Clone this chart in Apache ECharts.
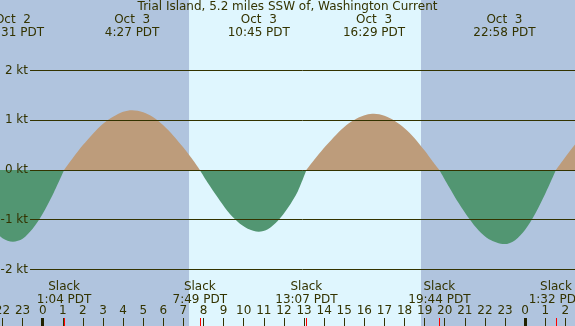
<!DOCTYPE html>
<html>
<head>
<meta charset="utf-8">
<script src="https://cdn.jsdelivr.net/npm/echarts@6/dist/echarts.min.js"></script>
<style>
  html, body { margin: 0; padding: 0; }
  #chart { width: 575px; height: 326px; }
</style>
</head>
<body>
<div id="chart"></div>
<script>
// hours counted from Oct 3 00:00 PDT
const hourTicks = [-2, -1, 0, 1, 2, 3, 4, 5, 6, 7, 8, 9, 10, 11, 12, 13, 14, 15, 16, 17, 18, 19, 20, 21, 22, 23, 24, 25, 26]
const midnightTicks = [0, 24]
const slackTimes = [1.067, 7.817, 13.117, 19.733, 25.533]
const slackLabels = ['1:04 PDT', '7:49 PDT', '13:07 PDT', '19:44 PDT', '1:32 PDT']
const peakTimes = [-1.483, 4.45, 10.75, 16.483, 22.967]
const peakLabels = ['Oct  2\n22:31 PDT', 'Oct  3\n4:27 PDT', 'Oct  3\n10:45 PDT', 'Oct  3\n16:29 PDT', 'Oct  3\n22:58 PDT']
const ktTicks = [-2, -1, 0, 1, 2]
const daylight = [7.28, 18.82]

// current speed (kt), split at slack water
const ebb1 = [[-3, -0.85], [-2.5, -1.16], [-2, -1.37], [-1.48, -1.44], [-1, -1.38], [-0.5, -1.18], [0, -0.88], [0.5, -0.5], [1.067, 0]]
const flood1 = [[1.067, 0], [1.5, 0.24], [2, 0.5], [2.5, 0.73], [3, 0.93], [3.5, 1.07], [4, 1.17], [4.45, 1.2], [5, 1.16], [5.5, 1.06], [6, 0.9], [6.5, 0.69], [7, 0.45], [7.4, 0.24], [7.817, 0]]
const ebb2 = [[7.817, 0], [8.2, -0.25], [8.7, -0.55], [9.2, -0.83], [9.7, -1.04], [10.2, -1.18], [10.75, -1.24], [11.2, -1.19], [11.7, -1.02], [12.2, -0.76], [12.7, -0.42], [13.117, 0]]
const flood2 = [[13.117, 0], [13.6, 0.25], [14.1, 0.49], [14.6, 0.71], [15.1, 0.9], [15.6, 1.03], [16.1, 1.11], [16.48, 1.13], [17, 1.09], [17.5, 0.99], [18, 0.84], [18.5, 0.64], [19, 0.39], [19.4, 0.17], [19.733, 0]]
const ebb3 = [[19.733, 0], [20.2, -0.33], [20.7, -0.67], [21.2, -0.97], [21.7, -1.22], [22.2, -1.39], [22.97, -1.49], [23.5, -1.41], [24, -1.2], [24.5, -0.88], [25, -0.48], [25.533, 0]]
const flood3 = [[25.533, 0], [26, 0.26], [26.5, 0.52], [27, 0.74]]

const textColor = '#333300'
const font = 'DejaVu Sans'
const xMin = -2.124
const xMax = 26.48
const lineStart = -0.63

const segments = [
  { data: ebb1, color: '#529672' },
  { data: flood1, color: '#bd9c7b' },
  { data: ebb2, color: '#529672' },
  { data: flood2, color: '#bd9c7b' },
  { data: ebb3, color: '#529672' },
  { data: flood3, color: '#bd9c7b' },
]

const baseX = {
  type: 'value',
  min: xMin,
  max: xMax,
  position: 'bottom',
  z: 10,
  axisLine: { show: false, onZero: false },
  splitLine: { show: false },
  axisTick: { show: false },
  axisLabel: { show: false },
}

const chart = echarts.init(document.getElementById('chart'))
chart.setOption({
  animation: false,
  backgroundColor: '#b0c4de',
  textStyle: { fontFamily: font },
  title: {
    text: 'Trial Island, 5.2 miles SSW of, Washington Current',
    left: 'center',
    top: 1,
    padding: 0,
    textStyle: { fontSize: 12, fontWeight: 'normal', color: textColor, fontFamily: font },
  },
  grid: { left: 0, right: 0, top: 0, bottom: 0, containLabel: false, outerBoundsMode: 'none' },
  xAxis: [
    {
      ...baseX,
      axisTick: {
        show: true, inside: true, length: 8, customValues: hourTicks,
        lineStyle: { color: textColor, width: 1 },
      },
      axisLabel: {
        show: true, inside: true, margin: 9, customValues: hourTicks,
        color: textColor, fontSize: 12, fontFamily: font,
        formatter: (v) => String(((Math.round(v) % 24) + 24) % 24),
      },
    },
    {
      ...baseX,
      axisTick: {
        show: true, inside: true, length: 8, customValues: midnightTicks,
        lineStyle: { color: '#222200', width: 3 },
      },
    },
    {
      ...baseX,
      axisTick: {
        show: true, inside: true, length: 8, customValues: slackTimes,
        lineStyle: { color: '#ff0000', width: 1 },
      },
      axisLabel: {
        show: true, inside: true, margin: 20, customValues: slackTimes,
        color: textColor, fontSize: 12, lineHeight: 13, fontFamily: font, align: 'center',
        formatter: (v) => 'Slack\n' + slackLabels[slackTimes.indexOf(v)],
      },
    },
    {
      ...baseX,
      position: 'top',
      axisLabel: {
        show: true, inside: true, margin: 13, customValues: peakTimes,
        color: textColor, fontSize: 12, lineHeight: 13, fontFamily: font, align: 'center',
        formatter: (v) => peakLabels[peakTimes.indexOf(v)],
      },
    },
  ],
  yAxis: {
    type: 'value',
    min: -3.136,
    max: 3.417,
    z: 10,
    axisLine: { show: false, onZero: false },
    splitLine: { show: false },
    axisTick: { show: false },
    axisLabel: {
      inside: true, margin: 28, align: 'right', customValues: ktTicks,
      color: textColor, fontSize: 12, fontFamily: font,
      formatter: (v) => v + ' kt',
    },
  },
  series: [
    {
      type: 'line',
      data: [],
      z: 1,
      silent: true,
      markArea: {
        silent: true,
        itemStyle: { color: '#dff6fe' },
        data: [[{ xAxis: daylight[0] }, { xAxis: daylight[1] }]],
      },
    },
    {
      type: 'line',
      data: [],
      z: 2,
      silent: true,
      markLine: {
        silent: true,
        symbol: 'none',
        label: { show: false },
        lineStyle: { color: textColor, width: 1, type: 'solid' },
        data: ktTicks.map((k) => [{ coord: [lineStart, k] }, { coord: [xMax, k] }]),
      },
    },
    ...segments.map((s) => ({
      type: 'line',
      data: s.data,
      z: 3,
      smooth: 0.3,
      symbol: 'none',
      silent: true,
      lineStyle: { width: 0 },
      itemStyle: { color: s.color },
      areaStyle: { color: s.color, opacity: 1 },
    })),
  ],
})
</script>
</body>
</html>
